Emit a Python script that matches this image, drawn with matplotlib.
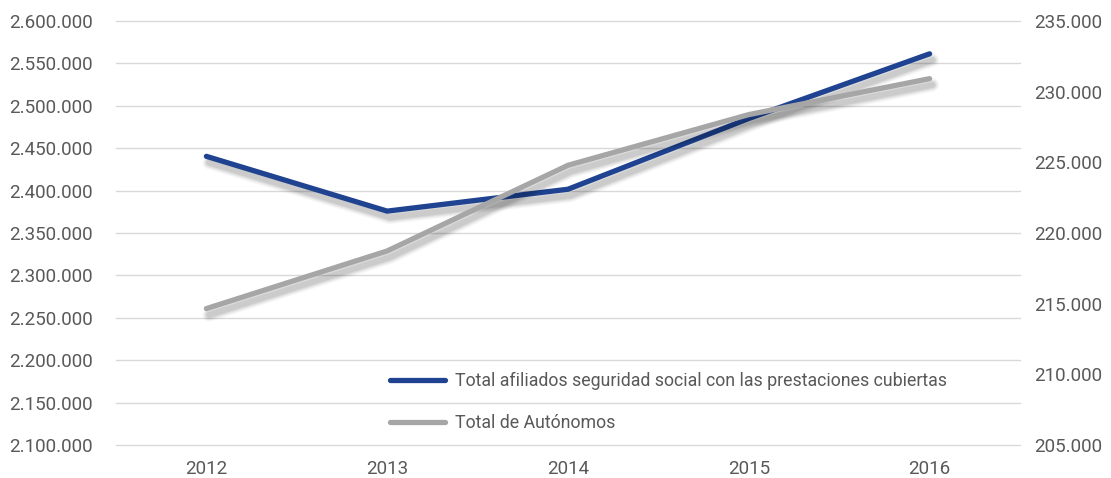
import matplotlib.pyplot as plt
import matplotlib.patheffects as pe
import matplotlib.ticker as mticker

# datos
anios = ['2012', '2013', '2014', '2015', '2016']
afiliados = [2440400, 2375800, 2401600, 2485000, 2561300]
autonomos = [214650, 218730, 224790, 228380, 230920]

plt.rcParams['font.family'] = ['Roboto', 'DejaVu Sans']
tam = 13.5

texto = '#595959'
azul = '#1F4390'
gris = '#A6A6A6'


def miles(x, pos):
    return f'{int(round(x)):,}'.replace(',', '.')


def sombra():
    # sombra difusa hecha con varias capas
    efectos = []
    for i, a in enumerate([0.025, 0.035, 0.045, 0.055, 0.06]):
        efectos.append(pe.SimpleLineShadow(offset=(2, -4.5), shadow_color='k',
                                           alpha=a, linewidth=10 - i * 1.5))
    efectos.append(pe.Normal())
    return efectos


fig = plt.figure(figsize=(11.11, 4.78), dpi=100)
ax = fig.add_axes([116 / 1111, 33 / 478, 904 / 1111, 424 / 478])
ax2 = ax.twinx()

x = range(len(anios))
l1, = ax.plot(x, afiliados, color=azul, lw=3.8, solid_capstyle='round',
              solid_joinstyle='miter', path_effects=sombra(), zorder=3,
              label='Total afiliados seguridad social con las prestaciones cubiertas')
l2, = ax2.plot(x, autonomos, color=gris, lw=3.8, solid_capstyle='round',
               solid_joinstyle='miter', path_effects=sombra(), zorder=3,
               label='Total de Autónomos')

ax.set_xlim(-0.5, 4.5)
ax.set_ylim(2100000, 2600000)
ax.set_yticks(range(2100000, 2600001, 50000))
ax2.set_ylim(205000, 235000)
ax2.set_yticks(range(205000, 235001, 5000))
ax.yaxis.set_major_formatter(mticker.FuncFormatter(miles))
ax2.yaxis.set_major_formatter(mticker.FuncFormatter(miles))
ax.set_xticks(list(x))
ax.set_xticklabels(anios)

ax.grid(axis='y', color='#D9D9D9', lw=1)
for g in ax.get_ygridlines():
    g.set_clip_on(False)
ax.set_axisbelow(True)
for a in (ax, ax2):
    for s in a.spines.values():
        s.set_visible(False)
    a.tick_params(length=0, colors=texto, labelsize=tam)
ax.tick_params(axis='y', pad=17)
ax2.tick_params(axis='y', pad=10)
ax.tick_params(axis='x', pad=11)

ax2.set_zorder(ax.get_zorder() + 1)
ax2.patch.set_visible(False)

leg = ax2.legend(handles=[l1, l2], loc='upper left', bbox_to_anchor=(0.303, 0.173),
                 frameon=False, handlelength=3.1, handletextpad=0.55,
                 labelspacing=1.38, fontsize=12.8, borderaxespad=0, borderpad=0)
for t in leg.get_texts():
    t.set_color(texto)
for h in leg.get_lines():
    h.set_path_effects([pe.Normal()])

fig.savefig('out.png', dpi=100)
